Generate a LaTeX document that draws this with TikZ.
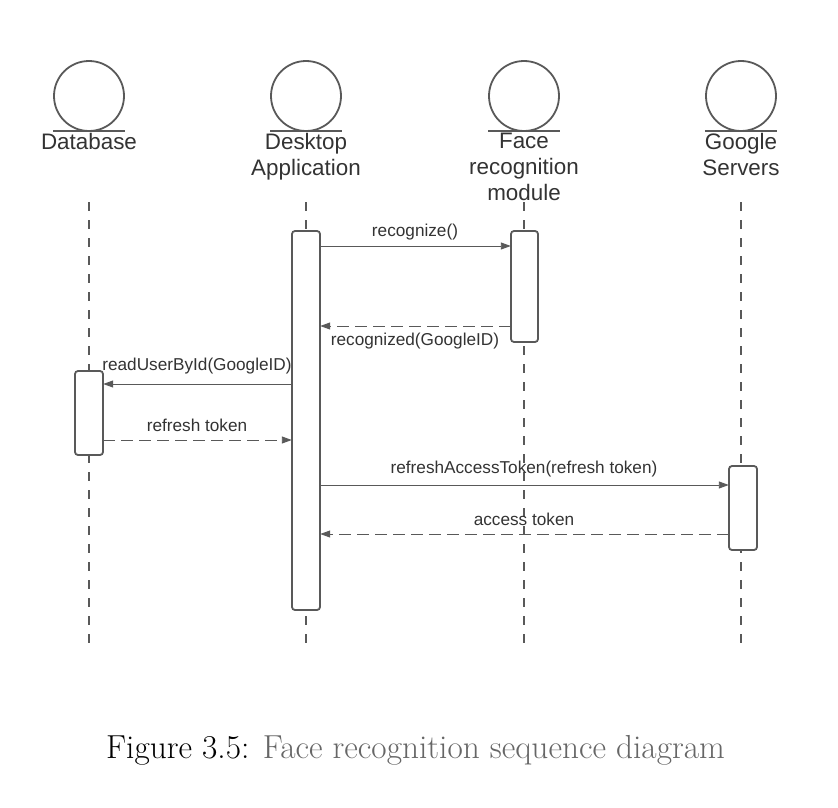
\documentclass[tikz,border=0pt]{standalone}
\usepackage{fontspec}
\newfontfamily\lsans{Liberation Sans}
\usetikzlibrary{arrows.meta}
\definecolor{ln}{HTML}{595959}
\definecolor{tx}{HTML}{333333}
\definecolor{cap}{HTML}{666666}
\begin{document}
\begin{tikzpicture}[x=1pt,y=-1pt,
  actorc/.style={draw=ln,line width=1.8pt,circle,minimum size=70pt,inner sep=0pt},
  actorl/.style={font=\lsans\fontsize{22.4}{26}\selectfont,text=tx,align=center,anchor=north,inner sep=0pt},
  lifeline/.style={draw=ln,line width=1.4pt,dash pattern=on 9pt off 9pt},
  actbox/.style={draw=ln,line width=1.8pt,fill=white,rounded corners=3pt},
  msg/.style={draw=ln,line width=0.9pt,-{Triangle[length=10pt,width=7pt]}},
  ret/.style={msg,dash pattern=on 12pt off 6pt},
  mlab/.style={font=\lsans\fontsize{17.2}{20}\selectfont,text=tx,inner sep=0pt}
]
\useasboundingbox (0,0) rectangle (838,808);
% actors
\foreach \n/\x in {db/89,da/306,fr/524,gs/741}{
  \node[actorc] (c\n) at (\x,96) {};
  \draw[ln,line width=2.2pt] (\x-36,131) -- (\x+36,131);
  \coordinate (top\n) at (\x,202);
  \coordinate (bot\n) at (\x,645);
  \draw[lifeline] (top\n) -- (bot\n);
}
\node[actorl] (ldb) at (89,133) {Database};
\node[actorl] (lda) at (306,133) {Desktop\\Application};
\node[actorl] (lfr) at (524,133) {Face\\recognition\\module};
\node[actorl] (lgs) at (741,133) {Google\\Servers};
% activation boxes
\draw[actbox] (292,231) rectangle (320,610);
\node[inner sep=0pt,minimum width=28pt,minimum height=379pt] (ada) at (306,420.5) {};
\draw[actbox] (511,231) rectangle (538,342);
\node[inner sep=0pt,minimum width=27pt,minimum height=111pt] (afr) at (524.5,286.5) {};
\draw[actbox] (75,371) rectangle (103,455);
\node[inner sep=0pt,minimum width=28pt,minimum height=84pt] (adb) at (89,413) {};
\draw[actbox] (729,466) rectangle (757,550);
\node[inner sep=0pt,minimum width=28pt,minimum height=84pt] (ags) at (743,508) {};
% messages
\draw[msg] (ada.east |- 0,246) -- (afr.west |- 0,246);
\node[mlab] (m1) at (415,232) {recognize()};
\draw[ret] (afr.west |- 0,326) -- (ada.east |- 0,326);
\node[mlab] (m2) at (415,341) {recognized(GoogleID)};
\draw[msg] (ada.west |- 0,384) -- (adb.east |- 0,384);
\node[mlab] (m3) at (197,366) {readUserById(GoogleID)};
\draw[ret] (adb.east |- 0,440) -- (ada.west |- 0,440);
\node[mlab] (m4) at (197,425) {refresh token};
\draw[msg] (ada.east |- 0,485) -- (ags.west |- 0,485);
\node[mlab] (m5) at (524,469) {refreshAccessToken(refresh token)};
\draw[ret] (ags.west |- 0,534) -- (ada.east |- 0,534);
\node[mlab] (m6) at (524,519) {access token};
% caption
\node[font=\fontsize{33.3}{38}\selectfont,inner sep=0pt] (capt) at (415.5,750) {Figure 3.5: \textcolor{cap}{Face recognition sequence diagram}};
\end{tikzpicture}
\end{document}
